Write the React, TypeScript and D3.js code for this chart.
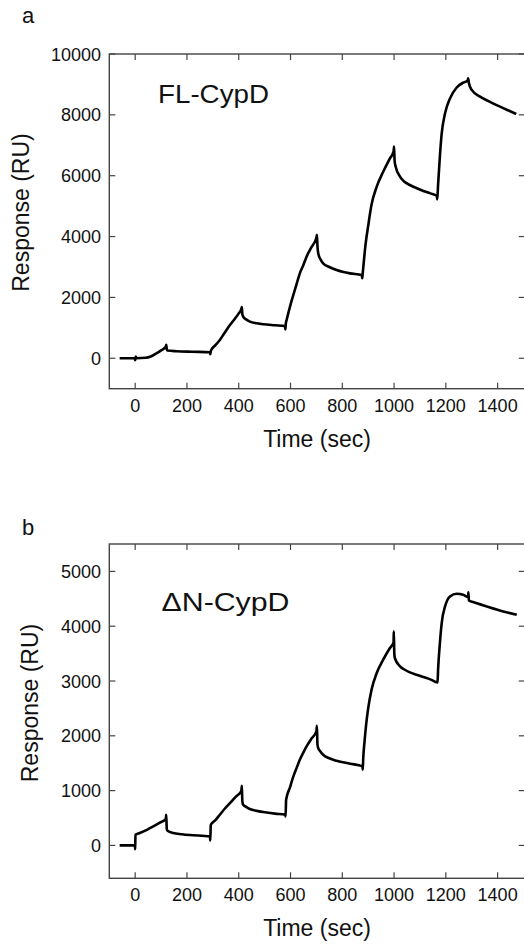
import React from "react";
import * as d3 from "d3";

const W = 524;
const H = 944;

// Time ticks
const timeTicks = [0, 200, 400, 600, 800, 1000, 1200, 1400];
const flTicks = [0, 2000, 4000, 6000, 8000, 10000];
const dnTicks = [0, 1000, 2000, 3000, 4000, 5000];

// FL-CypD sensorgram (time s, response RU)
const flTime = [
  -60, -2, 0, 2, 5, 40, 60, 80, 100, 118, 120, 122, 125, 160, 220, 289, 290, 292,
  295, 310, 327, 345, 366, 385, 398, 410, 412, 414, 417, 430, 443, 470, 495, 540,
  578, 580, 582, 585, 598, 611, 624, 636, 649, 662, 681, 700, 702, 704, 707, 716,
  726, 750, 778, 830, 875, 877, 879, 884, 890, 900, 913, 933, 958, 984, 998, 1000, 1002,
  1006, 1023, 1040, 1061, 1090, 1113, 1140, 1165, 1167, 1170, 1177, 1184, 1197,
  1216, 1242, 1267, 1284, 1286, 1289, 1300, 1332, 1365, 1396, 1440, 1472,
];
const flResponse = [
  0, 0, -60, 60, 0, 15, 60, 150, 260, 380, 440, 300, 255, 232, 215, 200, 130, 230,
  290, 430, 600, 830, 1090, 1300, 1450, 1620, 1680, 1450, 1370, 1270, 1205, 1150,
  1117, 1085, 1060, 950, 1150, 1260, 1700, 2080, 2450, 2790, 3050, 3340, 3650,
  3960, 4060, 3700, 3450, 3250, 3120, 3000, 2900, 2790, 2740, 2630, 2800, 3250,
  3750, 4350, 5050, 5640, 6130, 6570, 6790, 6960, 6500, 6300, 5970, 5800, 5695, 5580,
  5500, 5420, 5340, 5220, 5700, 6640, 7390, 8050, 8540, 8900, 9060, 9120, 9200,
  9050, 8820, 8600, 8450, 8320, 8150, 8030,
];

// ΔN-CypD sensorgram (time s, response RU)
const dnTime = [
  -60, -1, 0, 1, 18, 45, 70, 95, 118, 120, 122, 125, 147, 180, 211, 289, 290, 292,
  310, 327, 345, 366, 390, 410, 412, 414, 417, 430, 443, 470, 495, 540, 580, 581,
  583, 598, 611, 624, 636, 649, 662, 681, 700, 702, 704, 707, 716, 726, 750, 778,
  830, 878, 879, 881, 886, 892, 900, 913, 933, 958, 984, 998, 999, 1001, 1003, 1023,
  1040, 1061, 1090, 1113, 1140, 1168, 1170, 1177, 1184, 1197, 1216, 1242, 1267,
  1286, 1287, 1289, 1306, 1358, 1422, 1474,
];
const dnResponse = [
  0, 0, -70, 195, 226, 285, 347, 415, 480, 560, 300, 268, 226, 205, 190, 164, 90,
  377, 460, 560, 665, 773, 895, 990, 1090, 800, 743, 700, 664, 630, 609, 580, 560,
  529, 834, 1060, 1259, 1420, 1564, 1690, 1807, 1950, 2080, 2184, 1850, 1777,
  1710, 1655, 1590, 1545, 1491, 1442, 1381, 1600, 1900, 2200, 2500, 2841, 3146, 3389,
  3602, 3700, 3905, 3500, 3420, 3267, 3210, 3157, 3110, 3073, 3030, 2975, 3200,
  3693, 4058, 4361, 4544, 4593, 4575, 4533, 4617, 4470, 4440, 4361, 4270, 4210,
];

const FONT = "'Liberation Sans', Arial, Helvetica, sans-serif";
const AXIS = "#444";

type PanelProps = {
  letter: string;
  letterY: number;
  name: string;
  nameX: number;
  nameY: number;
  nameLen: number;
  times: number[];
  values: number[];
  yDomain: [number, number];
  yTicks: number[];
  top: number;
  bottom: number;
  yTitleX: number;
  yTitleY: number;
};

function Panel(p: PanelProps) {
  const left = 109.3;
  const right = 524.8;
  const x = d3.scaleLinear().domain([-100, 1505]).range([left, right]);
  const y = d3.scaleLinear().domain(p.yDomain).range([p.bottom, p.top]);
  const pts: [number, number][] = p.times.map((t, i) => [t, p.values[i]]);
  const line = d3
    .line<[number, number]>()
    .x((d) => x(d[0]))
    .y((d) => y(d[1]))
    .curve(d3.curveMonotoneX);
  const tl = 6;
  return (
    <g>
      <text x={22} y={p.letterY} fontSize={22} fontFamily={FONT} fill="#111">
        {p.letter}
      </text>
      <rect
        x={left}
        y={p.top}
        width={right - left}
        height={p.bottom - p.top}
        fill="none"
        stroke={AXIS}
        strokeWidth={1.4}
      />
      {timeTicks.map((t) => (
        <g key={"xt" + t}>
          <line x1={x(t)} x2={x(t)} y1={p.bottom} y2={p.bottom - tl} stroke={AXIS} strokeWidth={1.2} />
          <line x1={x(t)} x2={x(t)} y1={p.top} y2={p.top + tl} stroke={AXIS} strokeWidth={1.2} />
          <text
            x={x(t)}
            y={p.bottom + 23}
            textAnchor="middle"
            fontSize={18}
            fontFamily={FONT}
            fill="#111"
          >
            {t}
          </text>
        </g>
      ))}
      {p.yTicks.map((v) => (
        <g key={"yt" + v}>
          <line x1={left} x2={left + tl} y1={y(v)} y2={y(v)} stroke={AXIS} strokeWidth={1.2} />
          <line x1={right - tl} x2={right} y1={y(v)} y2={y(v)} stroke={AXIS} strokeWidth={1.2} />
          <text
            x={101}
            y={y(v) + 6.5}
            textAnchor="end"
            fontSize={18}
            fontFamily={FONT}
            fill="#111"
          >
            {v}
          </text>
        </g>
      ))}
      <path d={line(pts) || ""} fill="none" stroke="#000" strokeWidth={2.6} strokeLinejoin="round" />
      <text
        x={p.nameX}
        y={p.nameY}
        fontSize={25}
        fontFamily={FONT}
        fill="#111"
        textLength={p.nameLen}
        lengthAdjust="spacingAndGlyphs"
      >
        {p.name}
      </text>
      <text
        x={(left + right) / 2}
        y={p.bottom + 58}
        textAnchor="middle"
        fontSize={23}
        fontFamily={FONT}
        fill="#111"
      >
        Time (sec)
      </text>
      <text
        transform={`translate(${p.yTitleX},${p.yTitleY}) rotate(-90)`}
        textAnchor="middle"
        fontSize={23}
        fontFamily={FONT}
        fill="#111"
      >
        Response (RU)
      </text>
    </g>
  );
}

export default function App() {
  return (
    <svg
      width={W}
      height={H}
      viewBox={`0 0 ${W} ${H}`}
      style={{ position: "absolute", left: 0, top: 0, background: "#fff" }}
    >
      <rect x={0} y={0} width={W} height={H} fill="#fff" />
      <Panel
        letter="a"
        letterY={23.3}
        name="FL-CypD"
        nameX={158}
        nameY={103.3}
        nameLen={111}
        times={flTime}
        values={flResponse}
        yDomain={[-1000, 10000]}
        yTicks={flTicks}
        top={54}
        bottom={388.7}
        yTitleX={28.5}
        yTitleY={212.5}
      />
      <Panel
        letter="b"
        letterY={535}
        name="ΔN-CypD"
        nameX={161.5}
        nameY={611}
        nameLen={128}
        times={dnTime}
        values={dnResponse}
        yDomain={[-600, 5500]}
        yTicks={dnTicks}
        top={544}
        bottom={878.3}
        yTitleX={38.2}
        yTitleY={703}
      />
    </svg>
  );
}
